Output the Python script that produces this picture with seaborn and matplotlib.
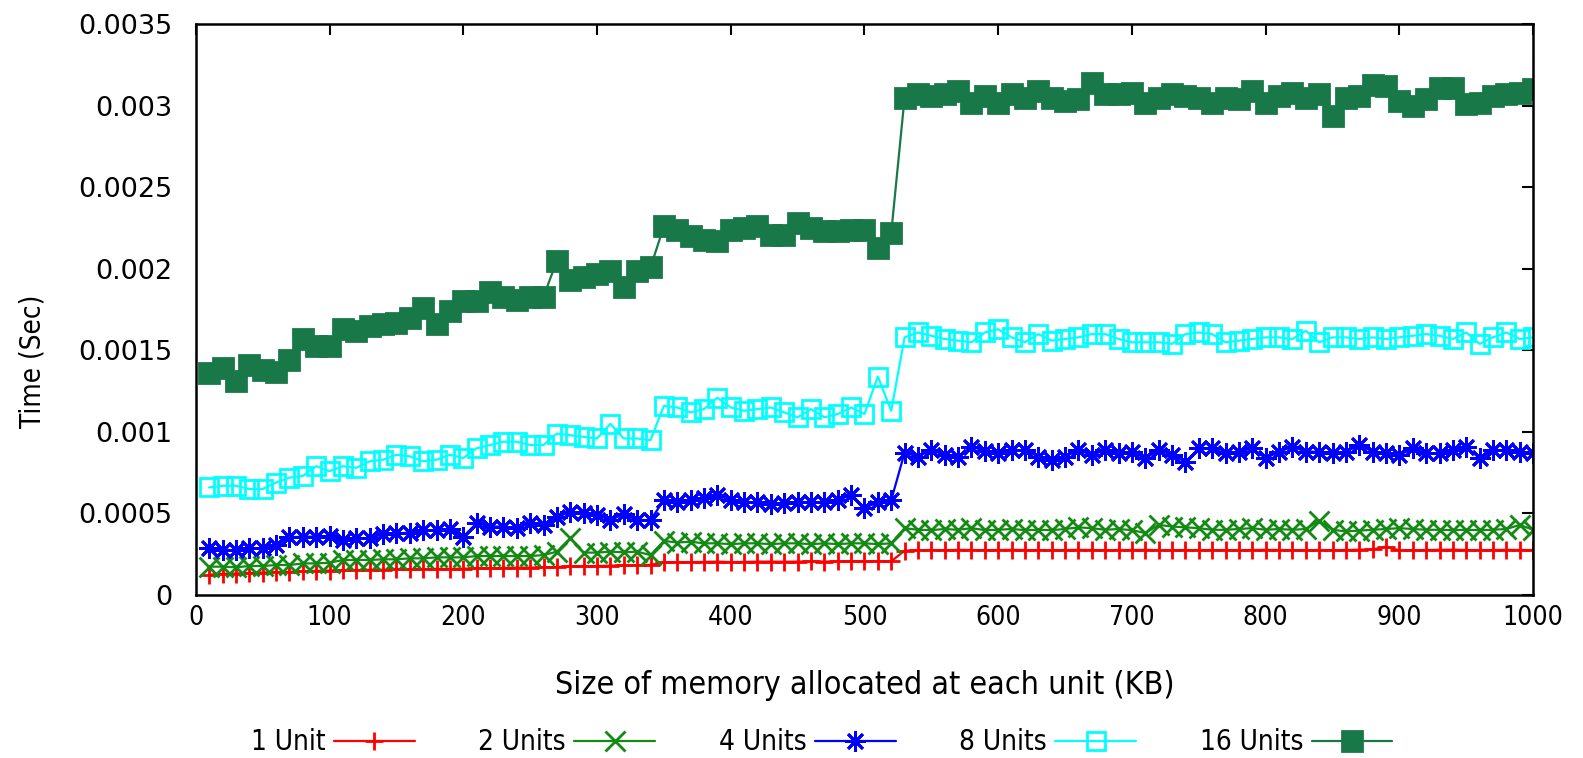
import matplotlib
matplotlib.use("Agg")
import matplotlib.pyplot as plt
import seaborn as sns
import pandas as pd
from matplotlib.ticker import FuncFormatter, MultipleLocator

# Allocation size per unit (KB)
sizes_kb = list(range(10, 1001, 10))

# Measured times (seconds)
unit1 = [
    0.000125, 0.000130, 0.000132, 0.000135, 0.000138, 0.000140, 0.000142, 0.000145, 0.000148, 0.000150,
    0.000152, 0.000153, 0.000155, 0.000155, 0.000157, 0.000158, 0.000158, 0.000160, 0.000160, 0.000162,
    0.000163, 0.000165, 0.000166, 0.000168, 0.000168, 0.000170, 0.000172, 0.000175, 0.000176, 0.000178,
    0.000180, 0.000182, 0.000183, 0.000185, 0.000200, 0.000202, 0.000202, 0.000203, 0.000205, 0.000202,
    0.000203, 0.000205, 0.000205, 0.000204, 0.000205, 0.000206, 0.000205, 0.000206, 0.000207, 0.000206,
    0.000207, 0.000207, 0.000272, 0.000275, 0.000276, 0.000275, 0.000277, 0.000276, 0.000275, 0.000276,
    0.000277, 0.000276, 0.000275, 0.000274, 0.000276, 0.000277, 0.000276, 0.000275, 0.000276, 0.000276,
    0.000277, 0.000275, 0.000274, 0.000276, 0.000275, 0.000276, 0.000275, 0.000274, 0.000276, 0.000277,
    0.000276, 0.000275, 0.000274, 0.000276, 0.000275, 0.000276, 0.000278, 0.000280, 0.000296, 0.000274,
    0.000275, 0.000276, 0.000277, 0.000278, 0.000276, 0.000275, 0.000276, 0.000277, 0.000276, 0.000276,
]
unit2 = [
    0.000174, 0.000174, 0.000170, 0.000178, 0.000178, 0.000184, 0.000184, 0.000194, 0.000194, 0.000198,
    0.000215, 0.000215, 0.000215, 0.000219, 0.000219, 0.000225, 0.000225, 0.000231, 0.000231, 0.000231,
    0.000239, 0.000239, 0.000239, 0.000239, 0.000239, 0.000245, 0.000266, 0.000347, 0.000260, 0.000260,
    0.000266, 0.000262, 0.000266, 0.000245, 0.000332, 0.000322, 0.000327, 0.000317, 0.000317, 0.000312,
    0.000317, 0.000317, 0.000312, 0.000317, 0.000317, 0.000312, 0.000317, 0.000312, 0.000317, 0.000317,
    0.000312, 0.000317, 0.000410, 0.000400, 0.000398, 0.000405, 0.000400, 0.000410, 0.000398, 0.000400,
    0.000405, 0.000398, 0.000400, 0.000398, 0.000405, 0.000415, 0.000410, 0.000400, 0.000405, 0.000398,
    0.000380, 0.000430, 0.000420, 0.000415, 0.000410, 0.000400, 0.000400, 0.000405, 0.000410, 0.000400,
    0.000405, 0.000400, 0.000405, 0.000455, 0.000400, 0.000390, 0.000395, 0.000400, 0.000405, 0.000410,
    0.000405, 0.000400, 0.000400, 0.000398, 0.000400, 0.000398, 0.000400, 0.000405, 0.000430, 0.000400,
]
unit4 = [
    0.000286, 0.000276, 0.000276, 0.000286, 0.000286, 0.000307, 0.000354, 0.000358, 0.000358, 0.000362,
    0.000337, 0.000347, 0.000347, 0.000374, 0.000378, 0.000382, 0.000398, 0.000398, 0.000402, 0.000358,
    0.000440, 0.000420, 0.000420, 0.000409, 0.000440, 0.000430, 0.000476, 0.000511, 0.000501, 0.000490,
    0.000460, 0.000495, 0.000460, 0.000460, 0.000582, 0.000572, 0.000582, 0.000593, 0.000613, 0.000580,
    0.000568, 0.000568, 0.000560, 0.000564, 0.000572, 0.000568, 0.000568, 0.000582, 0.000613, 0.000531,
    0.000572, 0.000582, 0.000873, 0.000848, 0.000889, 0.000858, 0.000848, 0.000909, 0.000885, 0.000873,
    0.000889, 0.000889, 0.000848, 0.000828, 0.000848, 0.000889, 0.000858, 0.000889, 0.000868, 0.000879,
    0.000838, 0.000889, 0.000858, 0.000817, 0.000899, 0.000899, 0.000868, 0.000879, 0.000899, 0.000838,
    0.000879, 0.000909, 0.000879, 0.000879, 0.000868, 0.000879, 0.000919, 0.000879, 0.000868, 0.000858,
    0.000899, 0.000868, 0.000868, 0.000889, 0.000909, 0.000838, 0.000889, 0.000889, 0.000879, 0.000870,
]
unit8 = [
    0.00066, 0.00067, 0.00067, 0.00065, 0.00065, 0.00069, 0.00072, 0.00073, 0.00079, 0.00076,
    0.00079, 0.00078, 0.00082, 0.00083, 0.00086, 0.00085, 0.00082, 0.00083, 0.00086, 0.00084,
    0.00090, 0.00092, 0.00094, 0.00094, 0.00092, 0.00092, 0.00099, 0.00098, 0.00097, 0.00096,
    0.00105, 0.00096, 0.00096, 0.00095, 0.00116, 0.00115, 0.00112, 0.00114, 0.00121, 0.00115,
    0.00113, 0.00114, 0.00115, 0.00112, 0.00109, 0.00114, 0.00109, 0.00111, 0.00115, 0.00111,
    0.00134, 0.00113, 0.00158, 0.00161, 0.00159, 0.00157, 0.00156, 0.00155, 0.00161, 0.00163,
    0.00158, 0.00155, 0.00160, 0.00156, 0.00157, 0.00158, 0.00160, 0.00160, 0.00157, 0.00155,
    0.00155, 0.00155, 0.00154, 0.00160, 0.00161, 0.00160, 0.00155, 0.00156, 0.00157, 0.00158,
    0.00158, 0.00157, 0.00162, 0.00155, 0.00158, 0.00158, 0.00157, 0.00158, 0.00157, 0.00158,
    0.00159, 0.00160, 0.00159, 0.00157, 0.00161, 0.00154, 0.00158, 0.00161, 0.00157, 0.00158,
]
unit16 = [
    0.00136, 0.00139, 0.00131, 0.00141, 0.00138, 0.00137, 0.00144, 0.00157, 0.00153, 0.00153,
    0.00163, 0.00162, 0.00165, 0.00166, 0.00167, 0.00170, 0.00176, 0.00166, 0.00174, 0.00180,
    0.00180, 0.00186, 0.00183, 0.00181, 0.00183, 0.00183, 0.00205, 0.00193, 0.00195, 0.00197,
    0.00199, 0.00189, 0.00199, 0.00201, 0.00226, 0.00224, 0.00220, 0.00218, 0.00217, 0.00224,
    0.00225, 0.00226, 0.00221, 0.00221, 0.00228, 0.00225, 0.00223, 0.00223, 0.00224, 0.00224,
    0.00213, 0.00222, 0.00305, 0.00307, 0.00306, 0.00307, 0.00309, 0.00302, 0.00306, 0.00302,
    0.00307, 0.00305, 0.00309, 0.00305, 0.00303, 0.00304, 0.00314, 0.00307, 0.00307, 0.00308,
    0.00302, 0.00305, 0.00307, 0.00306, 0.00305, 0.00302, 0.00305, 0.00304, 0.00309, 0.00302,
    0.00306, 0.00308, 0.00305, 0.00307, 0.00294, 0.00305, 0.00306, 0.00313, 0.00312, 0.00303,
    0.00300, 0.00304, 0.00311, 0.00311, 0.00301, 0.00302, 0.00306, 0.00307, 0.00308, 0.00310,
]

series_labels = ["1 Unit", "2 Units", "4 Units", "8 Units", "16 Units"]
series_values = [unit1, unit2, unit4, unit8, unit16]
series_colors = ["#ff0000", "#138a13", "#0000ff", "#00ffff", "#187848"]
series_markers = ["+", "x", (8, 2, 0), "s", "s"]
marker_sizes = [13, 14, 15, 13, 14]
marker_faces = ["#ff0000", "#138a13", "#0000ff", "none", "#187848"]

sns.set_theme(style="white")
plt.rcParams["font.family"] = ["DejaVu Sans"]
plt.rcParams["text.color"] = "black"
plt.rcParams["axes.labelcolor"] = "black"

fig = plt.figure(figsize=(15.83, 7.58), dpi=100)
ax = fig.add_axes([0.1237, 0.215, 0.9685 - 0.1237, 0.968 - 0.215])

for label, vals, col, mk, ms, mf in zip(series_labels, series_values, series_colors,
                                         series_markers, marker_sizes, marker_faces):
    df = pd.DataFrame({"size": sizes_kb, "time": vals})
    sns.lineplot(data=df, x="size", y="time", ax=ax, color=col, marker=mk,
                 markersize=ms, markerfacecolor=mf, markeredgecolor=col,
                 markeredgewidth=2, linewidth=1.6, label=label)

ax.set_xlim(0, 1000)
ax.set_ylim(0, 0.0035)
ax.xaxis.set_major_locator(MultipleLocator(100))
ax.yaxis.set_major_locator(MultipleLocator(0.0005))
ax.yaxis.set_major_formatter(FuncFormatter(lambda v, p: f"{v:g}"))
ax.tick_params(direction="in", top=True, right=True, length=8, width=1.5,
               colors="black", labelcolor="black")
ax.tick_params(axis="y", pad=17)
ax.tick_params(axis="x", pad=7)
for lbl in ax.get_yticklabels():
    lbl.set_fontsize(19.5)
for lbl in ax.get_xticklabels():
    lbl.set_fontsize(19)
    lbl.set_fontstretch("condensed")
for sp in ax.spines.values():
    sp.set_color("black")
    sp.set_linewidth(1.8)

ax.set_xlabel("Size of memory allocated at each unit (KB)", fontsize=23,
              fontstretch="condensed", labelpad=28, color="black")
ax.set_ylabel("Time (Sec)", fontsize=20, fontstretch="condensed", color="black")
ax.yaxis.set_label_coords(-0.112, 0.41)

leg = ax.legend(loc="center", bbox_to_anchor=(0.468, -0.258), ncol=5, frameon=False,
                markerfirst=False, handlelength=2.9, columnspacing=2.3, handletextpad=0.3,
                prop={"size": 20, "stretch": "condensed"})
for t in leg.get_texts():
    t.set_color("black")

fig.savefig("out.png", dpi=100)
